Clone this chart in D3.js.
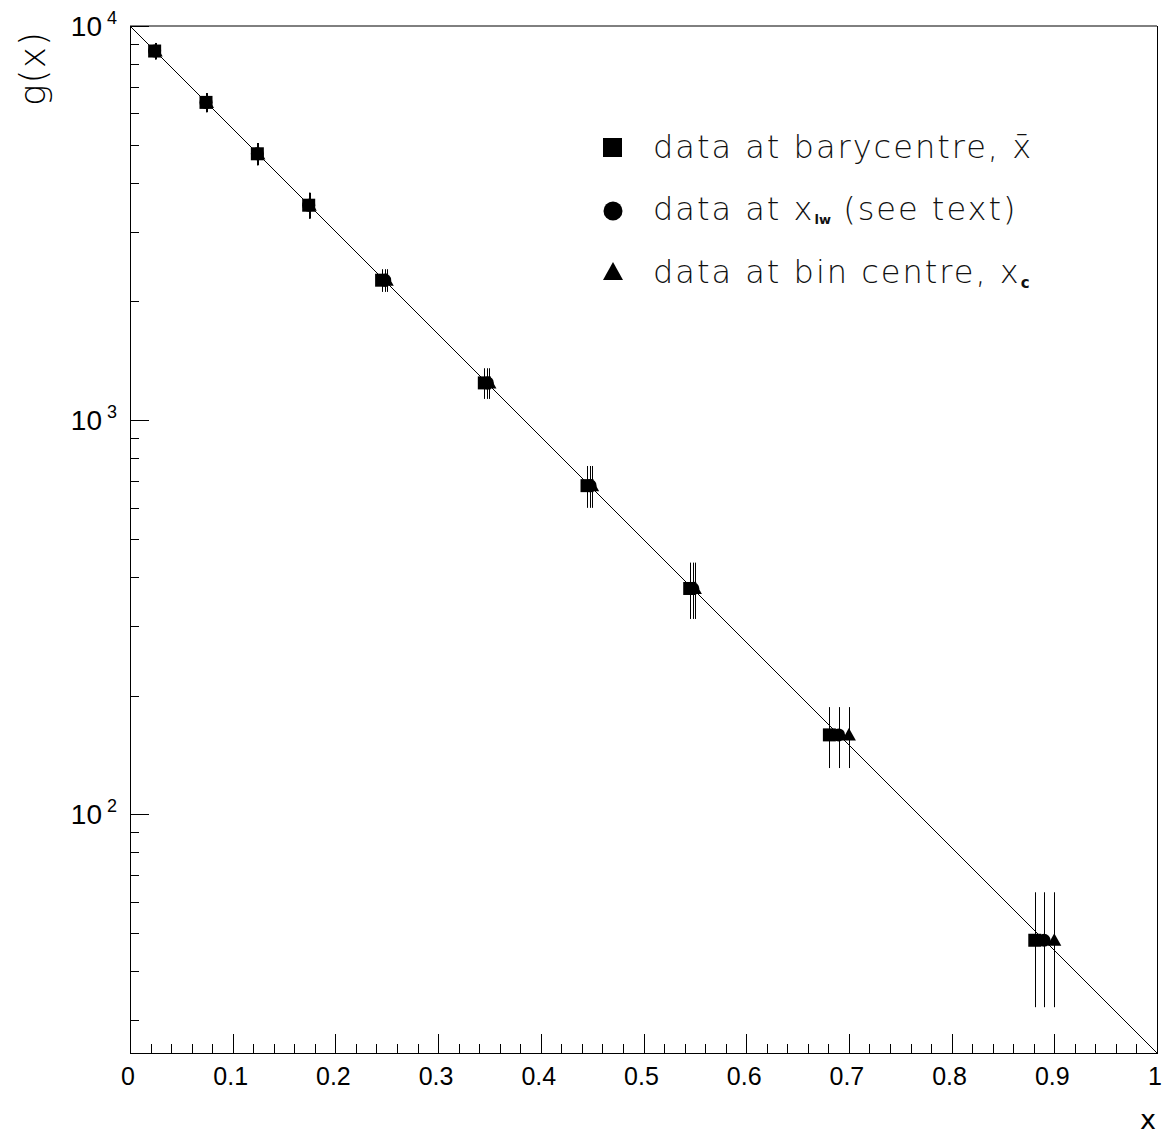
<!DOCTYPE html>
<html><head><meta charset="utf-8">
<script src="https://cdn.jsdelivr.net/npm/d3@7"></script>
<style>body{margin:0;background:#fff}svg{display:block}</style>
</head><body>
<svg id="c" width="1166" height="1138"></svg>
<script>
// ---- data ----
const binLow    = [0, 0.05, 0.10, 0.15, 0.2, 0.3, 0.4, 0.5, 0.6, 0.8];
const xBary     = [0.024, 0.074, 0.124, 0.174, 0.245, 0.345, 0.445, 0.545, 0.681, 0.881];
const xLw       = [0.024, 0.074, 0.124, 0.174, 0.248, 0.348, 0.448, 0.548, 0.690, 0.890];
const xCentre   = [0.025, 0.075, 0.125, 0.175, 0.25, 0.35, 0.45, 0.55, 0.70, 0.90];
const gValue    = [8640, 6400, 4740, 3510, 2265, 1243, 682, 374, 159, 47.9];
const gError    = [416, 358, 308, 265, 150, 111, 83, 61, 28, 15.5];
const fitX      = [0, 1];
const fitG      = [10000, 24.79];
const xTicksMajor = [0, 0.1, 0.2, 0.3, 0.4, 0.5, 0.6, 0.7, 0.8, 0.9, 1];
const xTickLabels = ["0", "0.1", "0.2", "0.3", "0.4", "0.5", "0.6", "0.7", "0.8", "0.9", "1"];
const yDecades  = [100, 1000, 10000];
const yDecadeExp = ["2", "3", "4"];
const legendLabels = ["data at barycentre, ", "data at ", "data at bin centre, "];

const svg = d3.select("#c");
const L = 130, R = 1157, T = 26, B = 1053;
const x = d3.scaleLinear().domain([0, 1]).range([L, R]);
const y = d3.scaleLog().domain([24.79, 10000]).range([B, T]);
const tickFont = "'Liberation Sans', Arial, sans-serif";
const textFont = "'DejaVu Sans', sans-serif";

// frame
svg.append("line").attr("x1", L).attr("x2", R).attr("y1", T).attr("y2", T).attr("stroke", "#000").attr("stroke-width", 1);
svg.append("line").attr("x1", R + 0.5).attr("x2", R + 0.5).attr("y1", T).attr("y2", B).attr("stroke", "#000");

// x axis
const xMinor = d3.range(0, 1.0001, 0.02);
const gx = svg.append("g");
gx.selectAll("line.mi").data(xMinor).join("line")
  .attr("x1", d => Math.round(x(d)) + 0.5).attr("x2", d => Math.round(x(d)) + 0.5)
  .attr("y1", B).attr("y2", d => B - (Math.abs(d * 10 - Math.round(d * 10)) < 1e-6 ? 19 : 9))
  .attr("stroke", "#000").attr("stroke-width", 1);
gx.append("line").attr("x1", L).attr("x2", R + 1).attr("y1", B + 0.5).attr("y2", B + 0.5).attr("stroke", "#000");
gx.selectAll("text").data(xTicksMajor).join("text")
  .attr("x", d => x(d) - 2).attr("y", 1085)
  .attr("text-anchor", "middle").attr("font-family", tickFont).attr("font-size", 25)
  .text((d, i) => xTickLabels[i]);

// y axis
const yMinor = [];
[10, 100, 1000].forEach(dec => { for (let k = 2; k <= 9; k++) { const v = dec * k; if (v >= 24.79 && v < 10000) yMinor.push(v); } });
const gy = svg.append("g");
gy.selectAll("line.mi").data(yMinor).join("line")
  .attr("x1", L).attr("x2", L + 9)
  .attr("y1", d => Math.round(y(d)) + 0.5).attr("y2", d => Math.round(y(d)) + 0.5)
  .attr("stroke", "#000");
gy.selectAll("line.ma").data(yDecades).join("line")
  .attr("x1", L).attr("x2", L + 19)
  .attr("y1", d => Math.round(y(d)) + 0.5).attr("y2", d => Math.round(y(d)) + 0.5)
  .attr("stroke", "#000");
gy.append("line").attr("x1", L + 0.5).attr("x2", L + 0.5).attr("y1", T).attr("y2", B + 1).attr("stroke", "#000");
yDecades.forEach((d, i) => {
  gy.append("text").attr("x", 102).attr("y", y(d) + 10).attr("text-anchor", "end")
    .attr("font-family", tickFont).attr("font-size", 28).text("10");
  gy.append("text").attr("x", 107).attr("y", y(d) - 2).attr("text-anchor", "start")
    .attr("font-family", tickFont).attr("font-size", 18).text(yDecadeExp[i]);
});

// axis titles
svg.append("text").attr("transform", "translate(45,31) rotate(-90)")
  .attr("text-anchor", "end").attr("font-family", textFont).attr("font-size", 36).attr("font-weight", 300)
  .attr("letter-spacing", 1).text("g(x)");
svg.append("text").attr("x", 1148).attr("y", 1129).attr("text-anchor", "middle")
  .attr("font-family", textFont).attr("font-size", 27).text("x");

// fit line
svg.append("path")
  .attr("d", d3.line().x(d => x(d[0])).y(d => y(d[1]))(fitX.map((v, i) => [v, fitG[i]])))
  .attr("fill", "none").attr("stroke", "#000").attr("stroke-width", 1);

// error bars
const data = gValue.map((v, i) => ({ v, e: gError[i], xb: xBary[i], xl: xLw[i], xc: xCentre[i] }));
const eb = svg.append("g").attr("stroke", "#000").attr("stroke-width", 1);
["xb", "xl", "xc"].forEach(key => {
  eb.selectAll("line." + key).data(data).join("line").attr("class", key)
    .attr("x1", d => Math.round(x(d[key])) + 0.5).attr("x2", d => Math.round(x(d[key])) + 0.5)
    .attr("y1", d => y(d.v + d.e)).attr("y2", d => y(d.v - d.e));
});

// markers
const sq = 13, cr = 6.5, tr = 7;
const tri = s => `M0,${-s} L${s},${s * 0.8} L${-s},${s * 0.8} Z`;
svg.append("g").selectAll("path").data(data).join("path")
  .attr("d", tri(tr)).attr("transform", d => `translate(${x(d.xc)},${y(d.v)})`).attr("fill", "#000");
svg.append("g").selectAll("circle").data(data).join("circle")
  .attr("cx", d => x(d.xl)).attr("cy", d => y(d.v)).attr("r", cr).attr("fill", "#000");
svg.append("g").selectAll("rect").data(data).join("rect")
  .attr("x", d => x(d.xb) - sq / 2).attr("y", d => y(d.v) - sq / 2).attr("width", sq).attr("height", sq).attr("fill", "#000");

// legend
const lg = svg.append("g");
const rowY = [158, 220, 283];
lg.append("rect").attr("x", 603).attr("y", 138).attr("width", 19).attr("height", 19).attr("fill", "#000");
lg.append("circle").attr("cx", 613).attr("cy", 211).attr("r", 9.5).attr("fill", "#000");
lg.append("path").attr("d", "M613,262 L623,280 L603,280 Z").attr("fill", "#000");
const ltxt = (i) => lg.append("text").attr("x", 653).attr("y", rowY[i])
  .attr("font-family", textFont).attr("font-size", 32).attr("font-weight", 300)
  .attr("letter-spacing", 2).attr("fill", "#111");
const t1 = ltxt(0); t1.append("tspan").text(legendLabels[0]); t1.append("tspan").text("x\u0304");
const t2 = ltxt(1); t2.append("tspan").text(legendLabels[1]); t2.append("tspan").text("x");
t2.append("tspan").attr("font-size", 13).attr("font-weight", "bold").attr("letter-spacing", 0).attr("dy", 4).text("lw");
t2.append("tspan").attr("dy", -4).text(" (see text)");
const t3 = ltxt(2); t3.append("tspan").text(legendLabels[2]); t3.append("tspan").text("x");
t3.append("tspan").attr("font-size", 15).attr("font-weight", "bold").attr("dy", 5).text("c");
</script>
</body></html>
